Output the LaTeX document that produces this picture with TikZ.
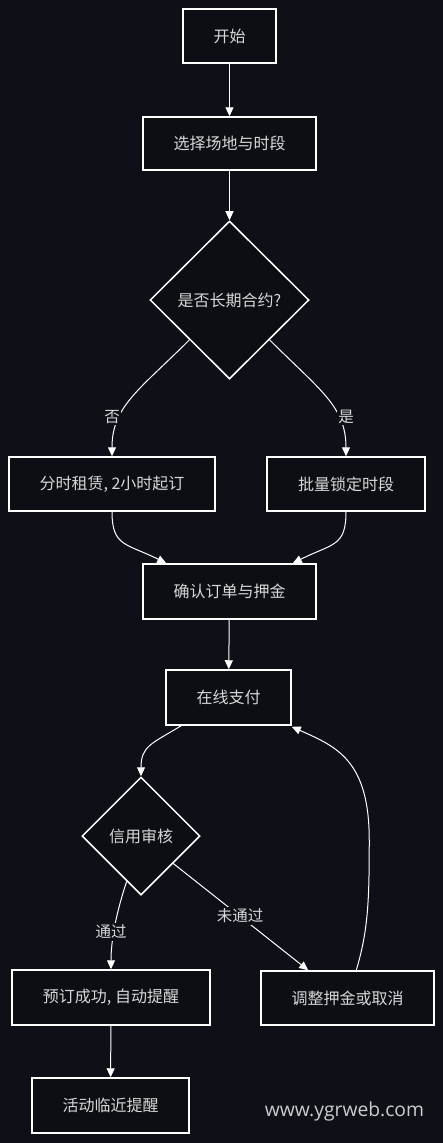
\documentclass[tikz,border=0pt]{standalone}
\usepackage{fontspec}
\setmainfont{Noto Sans CJK SC}
\newfontfamily\wmfont{Open Sans}
\usetikzlibrary{shapes.geometric,arrows.meta,calc}
\definecolor{bg}{HTML}{0D1117}
\definecolor{boxbg}{HTML}{0B0E13}
\definecolor{txt}{HTML}{D8D8D8}
\definecolor{wm}{HTML}{CCCCCC}
\begin{document}
\begin{tikzpicture}[x=1pt,y=-1pt,
  box/.style={rectangle, draw=white, line width=1.5pt, fill=boxbg, text=txt,
    font=\fontsize{16}{18}\selectfont, minimum height=54pt, inner sep=0pt},
  dia/.style={diamond, draw=white, line width=1.5pt, fill=boxbg, text=txt,
    font=\fontsize{16}{18}\selectfont, inner sep=0pt},
  arr/.style={draw=white, line width=1pt, -{Triangle[width=8pt,length=9pt]}},
  lbl/.style={fill=bg, text=txt, font=\fontsize{15.5}{17}\selectfont, inner sep=1.5pt}]
\fill[bg] (0,0) rectangle (443,1143);
\useasboundingbox (0,0) rectangle (443,1143);

\node[box, minimum width=93pt] (s) at (229.5,36) {开始};
\node[box, minimum width=173pt, minimum height=53pt] (a) at (229.5,143.5) {选择场地与时段};
\node[dia, minimum width=159pt, minimum height=158pt] (d1) at (229.5,300) {是否长期合约?};
\node[box, minimum width=206pt] (r1) at (112,484) {分时租赁, 2小时起订};
\node[box, minimum width=158pt] (r2) at (346,484) {批量锁定时段};
\node[box, minimum width=173pt, minimum height=55pt] (c) at (229.5,591.5) {确认订单与押金};
\node[box, minimum width=125pt, minimum height=55pt] (p) at (228.5,697.5) {在线支付};
\node[dia, minimum width=118pt, minimum height=118pt] (d2) at (141,836) {信用审核};
\node[box, minimum width=198pt, minimum height=55pt] (ok) at (111,997.5) {预订成功, 自动提醒};
\node[box, minimum width=173pt] (adj) at (347.5,998) {调整押金或取消};
\node[box, minimum width=157pt, minimum height=55pt] (rem) at (110.5,1105.5) {活动临近提醒};

\node[text=wm, font=\wmfont\fontsize{19.3}{21}\selectfont] (wmk) at (344.5,1111) {www.ygrweb.com};

% edges
\draw[arr] (s) -- (a);
\draw[arr] (a) -- (d1);
\draw[arr] (d1.south west) .. controls +(-50,50) and +(0,-50) .. (r1.north);
\node[lbl] (l1) at (112,417) {否};
\draw[arr] (d1.south east) .. controls +(50,50) and +(0,-50) .. (r2.north);
\node[lbl] (l2) at (346,417) {是};
\draw[arr] (r1.south) .. controls +(0,35) and +(-40,-20) .. ([xshift=24pt]c.north west);
\draw[arr] (r2.south) .. controls +(0,35) and +(40,-20) .. ([xshift=-24pt]c.north east);
\draw[arr] (c) -- (p);
\draw[arr] ([xshift=16pt]p.south west) .. controls +(-30,18) and +(0,-30) .. (d2.north);
\draw[arr] ($(d2.west)!0.76!(d2.south)$) .. controls +(-10,30) and +(0,-30) .. (ok.north);
\node[lbl] (l3) at (111,932) {通过};
\draw[arr] ($(d2.east)!0.46!(d2.south)$) -- ([xshift=48pt]adj.north west);
\node[lbl] (l4) at (240,916) {未通过};
\draw[arr] ([xshift=96pt]adj.north west) .. controls +(12,-40) and +(0,60) .. ++(13,-130)
  .. controls +(0,-80) and +(45,20) .. ([yshift=-1pt]p.south east);
\draw[arr] (ok) -- (rem);
\end{tikzpicture}
\end{document}
